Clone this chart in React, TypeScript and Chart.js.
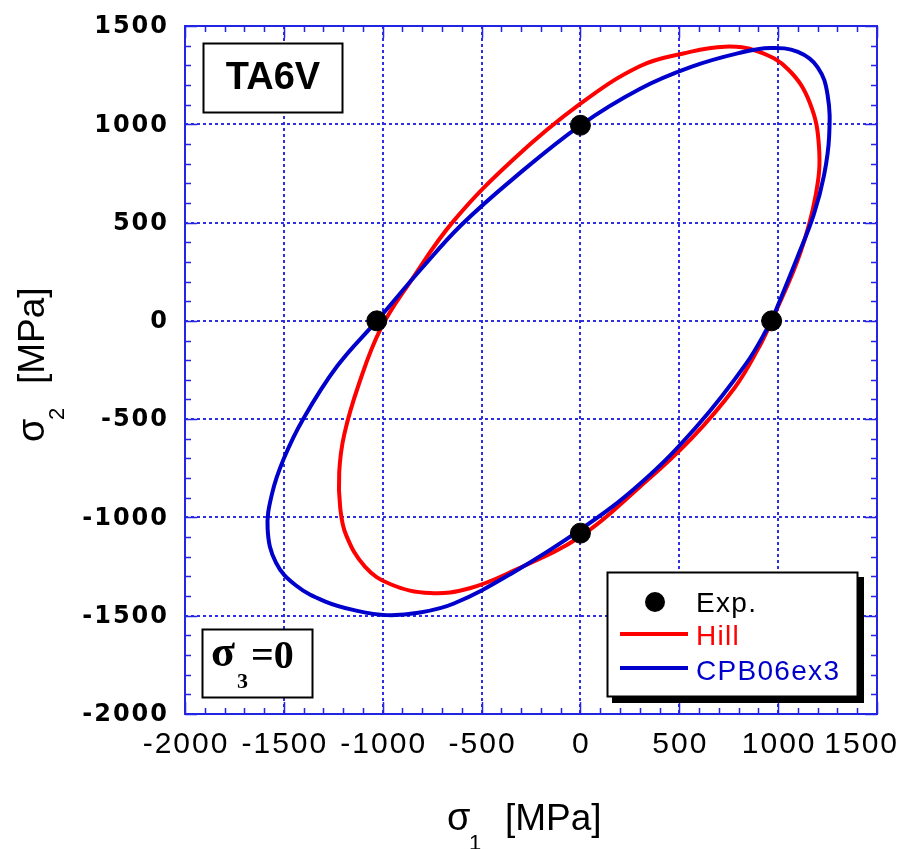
import React, { useEffect, useRef } from "react";
import { Chart, registerables } from "chart.js";
Chart.register(...registerables);

// Axis ticks (MPa)
const xTickValues = [-2000, -1500, -1000, -500, 0, 500, 1000, 1500];
const yTickValues = [-2000, -1500, -1000, -500, 0, 500, 1000, 1500];

// Experimental points
const expX = [0, -1030, 967, 0];
const expY = [995, 0, 0, -1080];

// Hill yield locus
const hillX = [968, 1110, 1190, 1207, 1160, 1050, 900, 730, 520, 300, 0, -330, -640, -860, -1010, -1120, -1195, -1220, -1215, -1185, -1090, -960, -760, -560, -340, 0, 300, 560, 780, 900, 968];
const hillY = [0, 340, 640, 880, 1110, 1280, 1370, 1395, 1360, 1295, 1105, 830, 510, 200, -40, -320, -580, -770, -950, -1090, -1250, -1340, -1385, -1360, -1272, -1097, -845, -600, -340, -140, 0];

// CPB06ex3 yield locus
const cpbX = [967, 1100, 1180, 1232, 1258, 1250, 1200, 1100, 960, 800, 560, 300, 0, -338, -600, -800, -1030, -1230, -1400, -1500, -1560, -1582, -1540, -1440, -1290, -1130, -980, -820, -640, -340, 0, 300, 590, 840, 967];
const cpbY = [0, 330, 540, 740, 940, 1150, 1290, 1368, 1388, 1362, 1292, 1180, 995, 725, 490, 270, 0, -230, -495, -700, -880, -1060, -1230, -1345, -1428, -1475, -1497, -1485, -1438, -1280, -1062, -830, -535, -215, 0];

const toPts = (xs: number[], ys: number[]) => xs.map((x, i) => ({ x, y: ys[i] }));

const FRAME = "#2424e4";
const GRID = "#2e2ee6";
const RED = "#ff0000";
const BLUE = "#0000cc";

function drawSigmaTitle(ctx: CanvasRenderingContext2D, sub: string) {
  ctx.fillStyle = "#000";
  ctx.textBaseline = "alphabetic";
  ctx.textAlign = "left";
  ctx.font = "38px 'Liberation Sans'";
  ctx.fillText("σ", 0, 0);
  ctx.font = "22px 'Liberation Sans'";
  ctx.fillText(sub, 22, 20);
  ctx.font = "37px 'Liberation Sans'";
  ctx.fillText("[MPa]", 58, 0);
}

const deco = {
  id: "deco",
  beforeDatasetsDraw(chart: any) {
    const { ctx, chartArea: a, scales } = chart;
    const x = scales.x, y = scales.y;
    ctx.save();
    ctx.strokeStyle = GRID;
    ctx.lineWidth = 2;
    ctx.setLineDash([3, 3]);
    for (const v of xTickValues) {
      if (v === -2000 || v === 1500) continue;
      const px = Math.round(x.getPixelForValue(v));
      ctx.beginPath();
      ctx.moveTo(px, a.top);
      ctx.lineTo(px, a.bottom);
      ctx.stroke();
    }
    for (const v of yTickValues) {
      if (v === -2000 || v === 1500) continue;
      const py = Math.round(y.getPixelForValue(v));
      ctx.beginPath();
      ctx.moveTo(a.left, py);
      ctx.lineTo(a.right, py);
      ctx.stroke();
    }
    ctx.restore();
  },
  afterDatasetsDraw(chart: any) {
    const { ctx, chartArea: a, scales } = chart;
    const x = scales.x, y = scales.y;
    ctx.save();
    // frame
    ctx.setLineDash([]);
    ctx.strokeStyle = FRAME;
    ctx.lineWidth = 2;
    ctx.strokeRect(a.left, a.top, a.right - a.left, a.bottom - a.top);
    // ticks
    ctx.lineWidth = 1.5;
    ctx.beginPath();
    for (let v = -2000; v <= 1500; v += 100) {
      const len = v % 500 === 0 ? 12 : 6;
      const px = Math.round(x.getPixelForValue(v)) + 0.5;
      ctx.moveTo(px, a.bottom);
      ctx.lineTo(px, a.bottom - len);
      ctx.moveTo(px, a.top);
      ctx.lineTo(px, a.top + len);
      const py = Math.round(y.getPixelForValue(v)) + 0.5;
      ctx.moveTo(a.left, py);
      ctx.lineTo(a.left + len, py);
      ctx.moveTo(a.right, py);
      ctx.lineTo(a.right - len, py);
    }
    ctx.stroke();

    // x tick labels
    ctx.fillStyle = "#000";
    ctx.font = "30px 'Liberation Sans'";
    (ctx as any).letterSpacing = "2px";
    ctx.textBaseline = "middle";
    for (const v of xTickValues) {
      const px = x.getPixelForValue(v);
      if (v === 1500) {
        ctx.textAlign = "right";
        ctx.fillText(String(v), 899, 745);
      } else {
        ctx.textAlign = "center";
        ctx.fillText(String(v), px + 1, 745);
      }
    }
    // y tick labels
    ctx.font = "bold 24px 'DejaVu Sans'";
    (ctx as any).letterSpacing = "2px";
    ctx.textAlign = "right";
    for (const v of yTickValues) {
      const py = y.getPixelForValue(v);
      ctx.fillText(String(v), 169, py + 1);
    }
    (ctx as any).letterSpacing = "0px";

    // axis titles
    ctx.save();
    ctx.translate(447, 830);
    drawSigmaTitle(ctx, "1");
    ctx.restore();
    ctx.save();
    ctx.translate(44, 442);
    ctx.rotate(-Math.PI / 2);
    drawSigmaTitle(ctx, "2");
    ctx.restore();

    // TA6V box
    ctx.fillStyle = "#fff";
    ctx.fillRect(203, 43, 140, 70);
    ctx.strokeStyle = "#000";
    ctx.lineWidth = 2;
    ctx.strokeRect(203.5, 43.5, 139, 69);
    ctx.fillStyle = "#000";
    ctx.font = "bold 38px 'Liberation Sans'";
    ctx.textAlign = "center";
    ctx.textBaseline = "middle";
    ctx.fillText("TA6V", 273, 79);

    // sigma3 = 0 box
    ctx.fillStyle = "#fff";
    ctx.fillRect(202, 629, 111, 69);
    ctx.strokeRect(202.5, 629.5, 110, 68);
    ctx.fillStyle = "#000";
    ctx.textAlign = "left";
    ctx.textBaseline = "alphabetic";
    ctx.font = "bold 44px 'Liberation Serif'";
    ctx.fillText("σ", 211, 666);
    ctx.font = "bold 22px 'Liberation Serif'";
    ctx.fillText("3", 237, 688);
    ctx.font = "bold 40px 'Liberation Serif'";
    ctx.fillText("=0", 251, 668);

    // legend
    ctx.fillStyle = "#000";
    ctx.fillRect(612, 577, 252, 126);
    ctx.fillStyle = "#fff";
    ctx.fillRect(607, 572, 251, 125);
    ctx.strokeStyle = "#000";
    ctx.lineWidth = 2;
    ctx.strokeRect(607.5, 572.5, 250, 124);
    ctx.beginPath();
    ctx.arc(655, 602, 10, 0, Math.PI * 2);
    ctx.fillStyle = "#000";
    ctx.fill();
    ctx.lineWidth = 4;
    ctx.strokeStyle = RED;
    ctx.beginPath();
    ctx.moveTo(620, 634);
    ctx.lineTo(688, 634);
    ctx.stroke();
    ctx.strokeStyle = BLUE;
    ctx.beginPath();
    ctx.moveTo(620, 668);
    ctx.lineTo(688, 668);
    ctx.stroke();
    ctx.font = "28px 'Liberation Sans'";
    (ctx as any).letterSpacing = "1.3px";
    ctx.textAlign = "left";
    ctx.textBaseline = "alphabetic";
    ctx.fillStyle = "#000";
    ctx.fillText("Exp.", 696, 612);
    ctx.fillStyle = RED;
    ctx.fillText("Hill", 696, 645);
    ctx.fillStyle = BLUE;
    ctx.fillText("CPB06ex3", 696, 680);
    (ctx as any).letterSpacing = "0px";
    ctx.restore();
  },
};

export default function App() {
  const ref = useRef<HTMLCanvasElement | null>(null);
  useEffect(() => {
    if (!ref.current) return;
    const chart = new Chart(ref.current, {
      type: "scatter",
      data: {
        datasets: [
          {
            label: "Exp.",
            data: toPts(expX, expY),
            pointRadius: 10,
            pointBackgroundColor: "#000",
            pointBorderColor: "#000",
            showLine: false,
            order: 1,
          },
          {
            label: "CPB06ex3",
            data: toPts(cpbX, cpbY),
            showLine: true,
            borderColor: BLUE,
            borderWidth: 4,
            pointRadius: 0,
            tension: 0.4,
            fill: false,
            order: 2,
          },
          {
            label: "Hill",
            data: toPts(hillX, hillY),
            showLine: true,
            borderColor: RED,
            borderWidth: 4,
            pointRadius: 0,
            tension: 0.4,
            fill: false,
            order: 3,
          },
        ],
      },
      options: {
        responsive: false,
        animation: false,
        devicePixelRatio: 1,
        layout: { padding: { left: 185, right: 37, top: 26, bottom: 135 } },
        scales: {
          x: { type: "linear", min: -2000, max: 1500, display: false },
          y: { type: "linear", min: -2000, max: 1500, display: false },
        },
        plugins: { legend: { display: false }, tooltip: { enabled: false } },
      },
      plugins: [deco],
    } as any);
    return () => chart.destroy();
  }, []);
  return (
    <canvas
      ref={ref}
      width={914}
      height={849}
      style={{ position: "absolute", left: 0, top: 0, width: 914, height: 849, background: "#fff" }}
    />
  );
}
